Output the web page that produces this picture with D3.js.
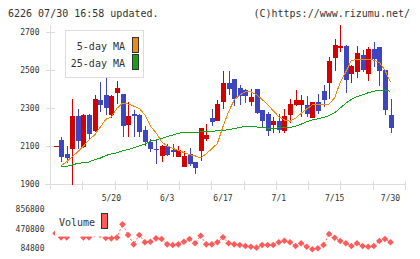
<!DOCTYPE html>
<html>
<head>
<meta charset="utf-8">
<script src="https://cdn.jsdelivr.net/npm/d3@7"></script>
<style>
  body { margin: 0; background: #fff; }
  svg { display: block; font-family: "DejaVu Sans Mono", "Liberation Mono", monospace; }
</style>
</head>
<body>
<div id="chart"></div>
<script>
// daily candles, index 0..60
const open  = [2099, 2132, 2058, 2086, 2258, 2096, 2263, 2180, 2340, 2368, 2263, 2380, 2374, 2210, 2268, 2263, 2184, 2123, 2084, 2049, 2100, 2079, 2044, 1991, 2058, 2016, 2075, 2137, 2249, 2233, 2333, 2433, 2453, 2405, 2395, 2333, 2400, 2289, 2268, 2210, 2233, 2180, 2263, 2317, 2317, 2316, 2249, 2332, 2389, 2433, 2565, 2617, 2628, 2479, 2491, 2579, 2480, 2611, 2621, 2500, 2263];
const high  = [2101, 2146, 2100, 2347, 2295, 2268, 2268, 2368, 2438, 2479, 2366, 2442, 2376, 2330, 2289, 2266, 2205, 2137, 2137, 2103, 2110, 2110, 2100, 2072, 2088, 2018, 2196, 2216, 2295, 2342, 2495, 2495, 2455, 2421, 2400, 2400, 2402, 2291, 2279, 2251, 2268, 2295, 2347, 2395, 2368, 2363, 2334, 2374, 2421, 2568, 2663, 2737, 2632, 2525, 2626, 2605, 2621, 2647, 2621, 2500, 2347];
const low   = [2099, 2017, 2012, 1895, 2082, 2090, 2135, 2175, 2277, 2263, 2249, 2319, 2146, 2146, 2150, 2149, 2100, 2070, 2007, 2018, 2045, 2040, 2042, 1988, 1993, 1953, 2023, 2128, 2205, 2230, 2295, 2368, 2310, 2316, 2325, 2312, 2268, 2202, 2154, 2170, 2167, 2170, 2223, 2310, 2254, 2254, 2247, 2267, 2304, 2347, 2496, 2595, 2380, 2432, 2459, 2489, 2442, 2517, 2417, 2265, 2170];
const close = [2101, 2044, 2038, 2258, 2128, 2263, 2165, 2347, 2317, 2300, 2363, 2405, 2205, 2258, 2258, 2175, 2123, 2084, 2077, 2102, 2054, 2068, 2079, 2047, 2005, 1986, 2196, 2158, 2228, 2321, 2433, 2400, 2347, 2365, 2365, 2358, 2275, 2233, 2180, 2231, 2184, 2258, 2321, 2342, 2342, 2268, 2332, 2286, 2342, 2547, 2632, 2626, 2449, 2521, 2589, 2500, 2611, 2559, 2496, 2291, 2196];

const ma5 = [null, 1996, 2017, 2044, 2070, 2100, 2132, 2158, 2198, 2240, 2254, 2298, 2325, 2321, 2310, 2298, 2263, 2205, 2170, 2123, 2100, 2088, 2076, 2066, 2055, 2048, 2038, 2060, 2085, 2114, 2202, 2281, 2342, 2368, 2386, 2386, 2370, 2345, 2318, 2286, 2254, 2237, 2230, 2246, 2272, 2295, 2316, 2316, 2316, 2320, 2355, 2435, 2490, 2550, 2556, 2556, 2556, 2552, 2540, 2500, 2435];
const ma25 = [null, 1991, 1993, 2000, 2009, 2012, 2016, 2028, 2036, 2050, 2058, 2064, 2075, 2082, 2090, 2100, 2110, 2125, 2132, 2140, 2150, 2158, 2167, 2172, 2172, 2172, 2174, 2175, 2177, 2180, 2182, 2186, 2192, 2198, 2203, 2205, 2200, 2196, 2194, 2194, 2195, 2196, 2198, 2205, 2215, 2228, 2237, 2243, 2250, 2260, 2275, 2300, 2325, 2345, 2360, 2370, 2380, 2388, 2393, 2395, 2388];

const volume = [380000, 300000, 300000, 420000, 390000, 300000, 300000, 360000, 350000, 290000, 280000, 295000, 556000, 346000, 163000, 346000, 203000, 214000, 281000, 268000, 163000, 150000, 163000, 214000, 268000, 183000, 332000, 163000, 163000, 203000, 301000, 183000, 163000, 150000, 130000, 116000, 97000, 150000, 150000, 150000, 203000, 234000, 203000, 130000, 183000, 116000, 65000, 85000, 150000, 366000, 293000, 228000, 183000, 130000, 183000, 130000, 116000, 130000, 228000, 268000, 203000];

const xLabels = ["5/20", "6/3", "6/17", "7/1", "7/15", "7/30"];
const xLabelIdx = [10, 20, 30, 40, 50, 60];
const priceTicks = [1900, 2100, 2300, 2500, 2700];
const volTicks = [84800, 470800, 856800];

const width = 420, height = 259;
const red = "#d40000", blue = "#3d45c0", grid = "#dcdcdc", txt = "#333";

const svg = d3.select("#chart").append("svg")
    .attr("width", width)
    .attr("height", height);

const x = d3.scaleLinear().domain([0, 60]).range([55.5, 390.5]);
const y = d3.scaleLinear().domain([1900, 2700]).range([184, 32]);
const yVol = d3.scaleLinear().domain([84800, 856800]).range([248.3, 209]);
// grid ticks along the bottom, evenly spread
const xGrid = d3.scaleLinear().domain([0, 11]).range([50, 405]);

// header texts
svg.append("text").attr("x", 8).attr("y", 17)
    .attr("font-size", 10).attr("fill", txt)
    .text("6226 07/30 16:58 updated.");
svg.append("text").attr("x", 410).attr("y", 17)
    .attr("font-size", 10).attr("fill", txt).attr("text-anchor", "end")
    .text("(C)https://www.rizumu.net/");

// axes frame
const frame = svg.append("g").attr("stroke", grid).attr("shape-rendering", "crispEdges");
frame.append("line").attr("x1", 50.5).attr("x2", 50.5).attr("y1", 25).attr("y2", 189);
frame.append("line").attr("x1", 45).attr("x2", 405).attr("y1", 184.5).attr("y2", 184.5);
frame.selectAll(".gx")
    .data(d3.range(1, 12))
    .join("line")
    .attr("x1", d => Math.round(xGrid(d)) + 0.5)
    .attr("x2", d => Math.round(xGrid(d)) + 0.5)
    .attr("y1", 180.5).attr("y2", 189.5);

// price axis
const yAxis = svg.append("g")
    .attr("transform", "translate(54.5,0)")
    .call(d3.axisLeft(y).tickValues(priceTicks).tickSize(9).tickPadding(6).tickFormat(d3.format("d")));
yAxis.select(".domain").remove();
yAxis.selectAll(".tick line").attr("stroke", grid).attr("shape-rendering", "crispEdges");
yAxis.selectAll("text").attr("font-family", "DejaVu Sans Mono").attr("font-size", 8).attr("fill", txt);

// date labels
svg.append("g").selectAll("text")
    .data(xLabels)
    .join("text")
    .attr("x", (d, i) => x(xLabelIdx[i]))
    .attr("y", 201)
    .attr("text-anchor", "middle")
    .attr("font-size", 8)
    .attr("fill", txt)
    .text(d => d);

// candles
const idx = d3.range(open.length);
const candles = svg.append("g").attr("shape-rendering", "crispEdges");
candles.selectAll("line")
    .data(idx)
    .join("line")
    .attr("x1", i => Math.round(x(i)) + 0.5)
    .attr("x2", i => Math.round(x(i)) + 0.5)
    .attr("y1", i => y(high[i]))
    .attr("y2", i => y(low[i]))
    .attr("stroke", i => close[i] >= open[i] ? red : blue);
candles.selectAll("rect")
    .data(idx)
    .join("rect")
    .attr("x", i => Math.round(x(i)) - 2)
    .attr("width", 5)
    .attr("y", i => y(Math.max(open[i], close[i])))
    .attr("height", i => Math.max(1, Math.abs(y(open[i]) - y(close[i]))))
    .attr("fill", i => close[i] >= open[i] ? red : blue);

// moving averages
const maLine = arr => d3.line()
    .defined(i => arr[i] != null)
    .x(i => x(i))
    .y(i => y(arr[i]))(idx);
svg.append("path").attr("d", maLine(ma25))
    .attr("fill", "none").attr("stroke", "#13a313").attr("stroke-width", 1)
    .attr("shape-rendering", "crispEdges");
svg.append("path").attr("d", maLine(ma5))
    .attr("fill", "none").attr("stroke", "#f08a10").attr("stroke-width", 1)
    .attr("shape-rendering", "crispEdges");

// legend for MAs
const leg = svg.append("g");
leg.append("rect").attr("x", 65.5).attr("y", 30.5).attr("width", 78).attr("height", 47)
    .attr("fill", "#fff").attr("stroke", grid);
leg.append("text").attr("x", 125).attr("y", 50).attr("text-anchor", "end")
    .attr("font-size", 10).attr("fill", txt).text("5-day MA");
leg.append("text").attr("x", 125).attr("y", 66.5).attr("text-anchor", "end")
    .attr("font-size", 10).attr("fill", txt).text("25-day MA");
leg.append("rect").attr("x", 132.5).attr("y", 37.5).attr("width", 6).attr("height", 15)
    .attr("fill", "#f08a10").attr("stroke", "#333");
leg.append("rect").attr("x", 132.5).attr("y", 54.5).attr("width", 6).attr("height", 15)
    .attr("fill", "#13a313").attr("stroke", "#333");

// volume pane
const volColor = "#ff5a5a";
svg.append("path")
    .attr("d", d3.line().x(i => x(i)).y(i => yVol(volume[i]))(idx))
    .attr("fill", "none").attr("stroke", volColor).attr("stroke-dasharray", "2,2");
svg.append("g").selectAll("path")
    .data(idx)
    .join("path")
    .attr("d", d3.symbol(d3.symbolSquare, 22))
    .attr("transform", i => `translate(${x(i)},${yVol(volume[i])}) rotate(45)`)
    .attr("fill", volColor);

const vAxis = svg.append("g")
    .attr("transform", "translate(44.5,0)")
    .call(d3.axisLeft(yVol).tickValues(volTicks).tickSize(0).tickPadding(0).tickFormat(d3.format("d")));
vAxis.select(".domain").remove();
vAxis.selectAll("text").attr("font-family", "DejaVu Sans Mono").attr("font-size", 8).attr("fill", txt);

// volume legend (white box sits over the first markers)
const vleg = svg.append("g");
vleg.append("rect").attr("x", 55).attr("y", 207).attr("width", 56).attr("height", 29.5).attr("fill", "#fff");
vleg.append("text").attr("x", 59).attr("y", 225.5)
    .attr("font-size", 10).attr("fill", txt).text("Volume");
vleg.append("rect").attr("x", 101.5).attr("y", 213.5).attr("width", 6).attr("height", 15)
    .attr("fill", volColor).attr("stroke", "#333");
</script>
</body>
</html>
